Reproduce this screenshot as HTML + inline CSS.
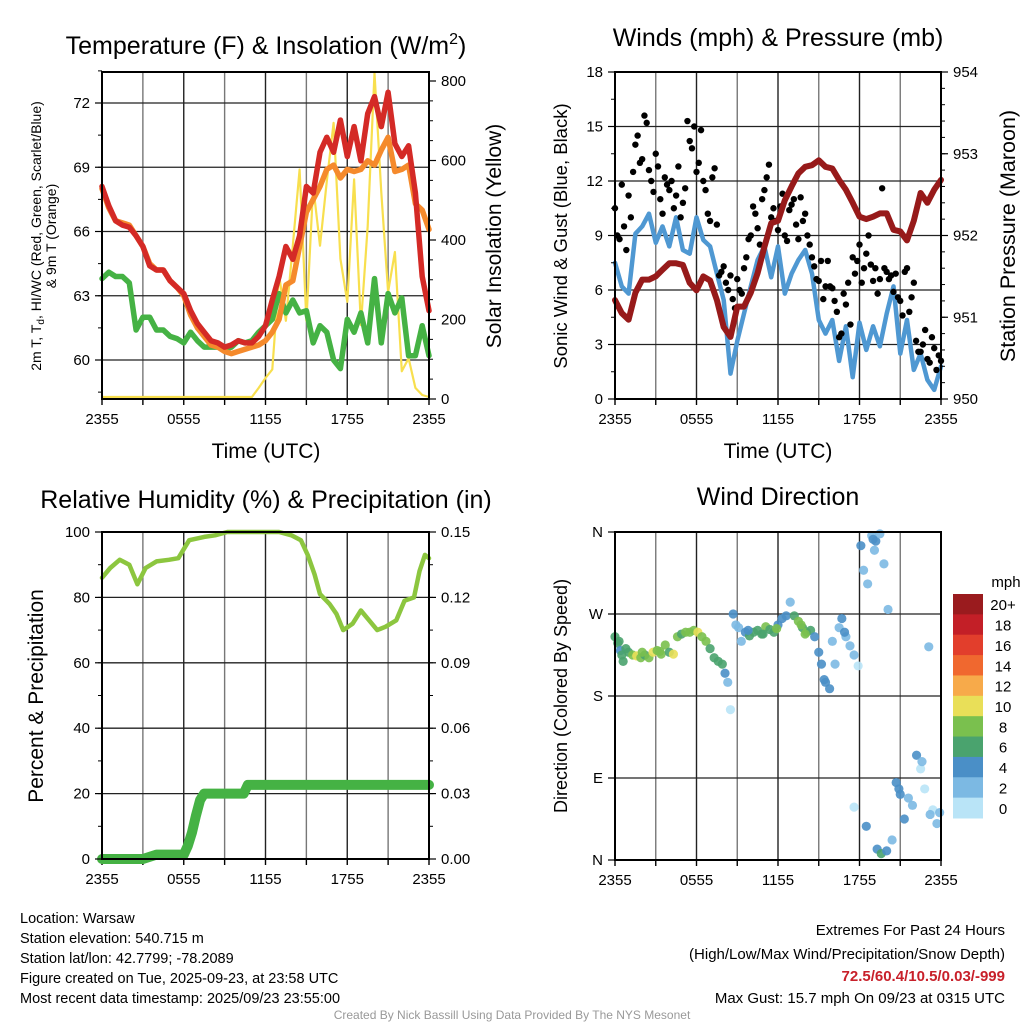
<!DOCTYPE html>
<html><head><meta charset="utf-8"><style>
body{margin:0;background:#fff;}
svg{display:block;font-family:"Liberation Sans",Arial,sans-serif;}
</style></head><body>
<svg id="s" width="1024" height="1024" viewBox="0 0 1024 1024" xmlns="http://www.w3.org/2000/svg">
<rect width="1024" height="1024" fill="#fff"/>
</svg>
<script>
// ---------- DATA ----------
const tHalf = [0,0.5,1,1.5,2,2.5,3,3.5,4,4.5,5,5.5,6,6.5,7,7.5,8,8.5,9,9.5,10,10.5,11,11.5,12,12.5,13,13.5,14,14.5,15,15.5,16,16.5,17,17.5,18,18.5,19,19.5,20,20.5,21,21.5,22,22.5,23,23.5,24];
const temp2m = [68.1,67.2,66.5,66.3,66.2,65.8,65.3,64.4,64.2,64.2,63.7,63.4,63.1,62.3,61.7,61.3,60.9,60.8,60.6,60.7,60.9,60.8,60.8,61.1,61.6,62.8,63.9,65.3,64.7,65.8,68.1,67.8,69.7,70.4,69.7,71.2,69.5,70.9,69.3,71.5,72.3,70.9,72.5,70.1,69.5,70.0,67.8,63.9,62.3];
const temp9m = [68.0,67.1,66.5,66.4,66.3,65.8,65.3,64.5,64.2,64.2,63.7,63.4,63.0,62.1,61.5,61.1,60.7,60.6,60.4,60.3,60.4,60.5,60.6,60.7,60.9,61.3,61.9,63.5,63.7,65.3,66.9,67.5,68.1,68.9,69.1,68.5,68.9,68.8,68.9,69.3,69.1,69.8,70.4,68.8,68.9,69.1,67.3,67.0,66.1];
const dewpt = [63.8,64.1,63.9,63.9,63.6,61.4,62.0,62.0,61.4,61.4,61.1,61.0,60.8,61.3,60.9,60.6,60.6,60.6,60.5,60.6,60.9,60.8,60.9,61.3,61.6,61.9,63.1,62.2,62.8,62.2,62.3,60.8,61.6,61.3,60.0,59.6,61.9,61.3,62.2,60.8,63.8,60.8,63.1,62.2,62.9,60.2,60.2,61.6,60.2];
const solar = [0,0,0,0,0,0,0,0,0,0,0,0,0,0,0,0,0,0,0,0,0,0,0,23,48,70,308,193,383,576,193,534,383,546,694,350,241,551,182,433,820,518,266,367,65,98,23,5,0];
const windSonic = [7.5,6.2,5.8,9.1,9.5,10.2,8.6,9.5,8.4,10.0,8.2,8.0,10.0,8.75,8.4,6.9,5.45,1.4,3.2,4.7,6.2,7.65,8.4,6.7,8.4,5.8,6.9,7.65,8.2,6.9,4.35,3.6,4.35,2.1,4.0,1.2,4.2,2.7,4.0,2.9,4.7,6.2,2.5,4.35,1.6,2.5,1.05,0.5,1.8];
const pressure = [951.21,951.05,950.97,951.3,951.46,951.46,951.5,951.58,951.66,951.66,951.64,951.42,951.33,951.5,951.45,951.21,950.88,950.76,951.13,951.13,951.3,951.54,951.86,952.15,952.18,952.43,952.6,952.76,952.84,952.86,952.92,952.84,952.82,952.68,952.56,952.4,952.23,952.2,952.23,952.27,952.27,952.07,952.05,951.94,952.18,952.52,952.4,952.56,952.68];
const gusts = [10.5,8.8,9.5,11.2,12.5,14.5,13.2,15.2,12.0,13.5,11.0,12.2,11.5,10.5,12.8,10.8,15.3,13.8,12.5,14.8,11.5,9.8,12.7,6.8,7.3,6.0,5.5,6.6,5.8,7.8,9.0,10.2,8.5,11.5,12.9,10.5,9.3,11.3,8.7,10.7,9.6,11.1,10.2,8.5,7.3,6.5,5.5,7.6,6.1,4.8,3.6,5.2,4.1,6.9,8.5,7.2,9.0,6.5,5.8,11.6,7.0,6.8,6.9,5.4,7.0,4.8,6.4,2.6,3.0,2.2,3.4,1.6,2.1];
const gusts2 = [9.0,11.8,8.2,10.0,14.0,13.0,15.6,12.6,11.4,12.8,10.2,11.8,12.0,11.2,10.0,11.6,14.2,15.0,13.0,12.0,10.2,12.2,9.6,7.0,6.4,6.8,5.0,6.0,7.2,8.8,10.6,9.4,11.0,12.2,10.0,9.8,10.6,9.0,10.4,11.0,8.8,9.8,9.0,7.8,6.6,7.6,6.2,6.2,5.4,3.4,5.8,6.4,7.8,7.6,6.4,8.0,7.4,7.2,6.6,7.2,6.6,5.9,5.6,4.6,7.2,5.6,3.2,2.6,3.8,2.0,2.8,2.4];
const rhT = [0,0.6,1.3,2.0,2.6,3.2,4.0,4.9,5.6,6.4,7.5,8.3,9.2,11.0,13.0,13.9,14.6,15.1,15.6,16.0,16.7,17.2,17.7,18.4,19.0,19.6,20.2,20.8,21.6,22.2,22.9,23.3,23.7,24];
const rhVals = [86,89,91.5,90,84,89,91,91.5,92,97.5,98.5,99,100,100,100,99,97.5,93,87,81,78,75,70,72,76,73,70,71,73,79,80,88,93,92];
const precT = [0,1,3,4,5,6,6.3,6.6,6.9,7.2,7.5,10.4,10.7,24];
const precVals = [0,0,0,0.002,0.002,0.002,0.006,0.012,0.02,0.027,0.03,0.03,0.034,0.034];
const dirT = [0.0,0.2,0.4,0.6,0.8,1.0,1.3,1.6,1.9,2.2,2.5,2.8,3.1,3.4,3.7,4.0,4.3,4.6,4.9,5.2,5.5,5.8,6.1,6.4,6.7,7.0,7.3,7.6,7.9,8.1,8.3,8.5,8.7,8.9,9.1,9.3,9.6,9.9,10.2,10.5,10.8,11.1,11.4,11.7,12.0,12.3,12.6,12.9,13.2,13.5,13.8,14.1,14.4,14.7,15.0,15.2,15.5,15.8,16.0,16.2,16.5,16.7,17.0,17.3,17.6,17.9,18.1,18.3,18.6,18.9,19.2,19.5,19.8,20.1,20.4,20.7,21.0,21.3,21.6,21.9,22.2,22.5,22.8,23.1,23.4,23.7,23.9,17.6,18.5,19.3,19.6,20.0,20.9,22.6,23.2,0.3,0.5,2.0,3.3,9.8,10.9,11.9,13.7,14.0,15.4,16.9,19.0,19.1];
const dirVals = [245,238,230,218,232,228,225,224,222,225,222,228,230,226,236,228,226,245,248,250,250,252,250,245,240,232,222,218,215,205,195,165,270,258,255,240,250,246,250,252,248,256,253,250,258,265,268,283,268,262,255,250,252,245,228,215,195,188,240,215,255,265,245,235,225,213,345,318,303,356,350,358,325,275,22,85,72,45,68,60,115,100,78,234,55,40,52,58,37,12,7,10,78,108,50,240,225,228,229,252,248,254,258,248,198,250,352,340];
const dirSpd = [6,6,5,6,7,6.5,9,10,9,7,8,10,8,8,9,7,10,8,7,8,8,9,10,8,8,7,7,6,6,5,3,1,4,3,3,2,5,7,6,7,6,8,7,6,5,4,4,2,7,8,7,8,7,4,4,5,4,5,3,2,3,5,2,3,2,1,5,3,3,2,4,3,3,3,3,5,4,4,2,2,5,1,1,2,0.5,3,2,1,5,4,6,5,4,2,3,6,6,8,9,5,7,8,9,8,4,5,5,3];
const speedColors = ["#b9e4f7","#7cb9e3","#4a8fc7","#4aa36e","#7ac04e","#e9df58","#f7aa4a","#f0682f","#e23e2c","#c31f27","#9a1b1e"];
const speedLabels = ["0","2","4","6","8","10","12","14","16","18","20+"];
const xTickLabels = ["2355","0555","1155","1755","2355"];

// ---------- HELPERS ----------
const NS="http://www.w3.org/2000/svg";
const svg=document.getElementById('s');
function mk(tag,attrs,parent){const e=document.createElementNS(NS,tag);for(const k in attrs)e.setAttribute(k,attrs[k]);(parent||svg).appendChild(e);return e;}
function txt(x,y,s,size,anchor,extra,parent){const e=mk('text',Object.assign({x:x,y:y,'font-size':size,'text-anchor':anchor||'middle',fill:'#000'},extra||{}),parent);e.textContent=s;return e;}
function panel(x0,x1,y0,y1){return {x0,x1,y0,y1,tx:t=>x0+t/24*(x1-x0)};}
function lin(v0,v1,p0,p1){return v=>p0+(v-v0)/(v1-v0)*(p1-p0);}
function path(ts,vs,fx,fy,color,w,name,g){let d='';for(let i=0;i<ts.length;i++){d+=(i?'L':'M')+fx(ts[i]).toFixed(1)+','+fy(vs[i]).toFixed(1);}
 const p=mk('path',{d:d,fill:'none',stroke:color,'stroke-width':w,'stroke-linejoin':'round','stroke-linecap':'round'},g);
 
 
 return p;}
function frame(P,g){
 for(let h=3;h<24;h+=3){mk('line',{x1:P.tx(h),x2:P.tx(h),y1:P.y0,y2:P.y1,stroke:(h%6?'#777':'#222'),'stroke-width':1.4},g);}
 for(let h=0;h<=24;h+=3){mk('line',{x1:P.tx(h),x2:P.tx(h),y1:P.y1,y2:P.y1+6,stroke:'#000','stroke-width':1.4},g);}
 xTickLabels.forEach((l,i)=>{const t=txt(P.tx(i*6),P.y1+25,l,15,'middle',{},g);});
}
function border(P,g){mk('rect',{x:P.x0,y:P.y0,width:P.x1-P.x0,height:P.y1-P.y0,fill:'none',stroke:'#000','stroke-width':2},g);}
function hgrid(P,fy,vals,g){vals.forEach(v=>mk('line',{x1:P.x0,x2:P.x1,y1:fy(v),y2:fy(v),stroke:'#222','stroke-width':1.3},g));}
function leftTicks(P,fy,majors,minors,labels,g){
 minors.forEach(v=>mk('line',{x1:P.x0-4,x2:P.x0,y1:fy(v),y2:fy(v),stroke:'#000','stroke-width':1},g));
 majors.forEach((v,i)=>{mk('line',{x1:P.x0-7,x2:P.x0,y1:fy(v),y2:fy(v),stroke:'#000','stroke-width':1.2},g);
  if(labels){const t=txt(P.x0-12,fy(v)+5,labels[i],15,'end',{},g);}});
}
function rightTicks(P,fy,majors,minors,labels,g){
 minors.forEach(v=>mk('line',{x1:P.x1,x2:P.x1+4,y1:fy(v),y2:fy(v),stroke:'#000','stroke-width':1},g));
 majors.forEach((v,i)=>{mk('line',{x1:P.x1,x2:P.x1+7,y1:fy(v),y2:fy(v),stroke:'#000','stroke-width':1.2},g);
  const t=txt(P.x1+12,fy(v)+5,labels[i],15,'start',{},g);});
}
function range(a,b,s){const r=[];for(let v=a;v<=b+1e-9;v+=s)r.push(+v.toFixed(4));return r;}
function grp(name){const g=mk('g',{});return g;}

// ---------- PANEL 1 ----------
(function(){
 const g=grp('temperature-panel');
 const P=panel(102,429,72,399);
 const fy=lin(60,72,360,103), fs=lin(0,800,397,81);
 frame(P,g);
 hgrid(P,fy,[60,63,66,69,72],g);
 path(tHalf,solar,P.tx,fs,'#f8df4e',2.2,'solar-insolation-line',g);
 path(tHalf,dewpt,P.tx,fy,'#45b244',5.5,'dewpoint-line',g);
 path(tHalf,temp9m,P.tx,fy,'#f58a2c',5.5,'temp-9m-line',g);
 path(tHalf,temp2m,P.tx,fy,'#d42a26',5.5,'temp-2m-line',g);
 border(P,g);
 leftTicks(P,fy,[60,63,66,69,72],range(58.5,73.5,1.5),['60','63','66','69','72'],g);
 rightTicks(P,lin(0,800,399,81),[0,200,400,600,800],range(0,800,50),['0','200','400','600','800'],g);
 const t1=mk('text',{x:266,y:54,'font-size':25,'text-anchor':'middle'},g);
 t1.innerHTML='Temperature (F) &amp; Insolation (W/m<tspan dy="-10" font-size="16">2</tspan><tspan dy="10">)</tspan>';
 
 const yl=mk('text',{transform:'translate(41,236) rotate(-90)','font-size':14,'text-anchor':'middle'},g);
 yl.innerHTML='2m T, T<tspan dy="3" font-size="10">d</tspan><tspan dy="-3">, HI/WC (Red, Green, Scarlet/Blue)</tspan>';
 
 const yl2=txt(0,0,'& 9m T (Orange)',14,'middle',{transform:'translate(56,236) rotate(-90)'},g);
 
 const yr=txt(0,0,'Solar Insolation (Yellow)',21,'middle',{transform:'translate(501,236) rotate(-90)'},g);
 
 const xt=txt(266,458,'Time (UTC)',21,'middle',{},g);
 
})();

// ---------- PANEL 2 ----------
(function(){
 const g=grp('winds-panel');
 const P=panel(615,941,72,399);
 const fy=lin(0,18,399,72), fp=lin(950,954,399,72);
 frame(P,g);
 hgrid(P,fy,[3,6,9,12,15],g);
 path(tHalf,windSonic,P.tx,fy,'#4f98d2',4.5,'sonic-wind-line',g);
 gusts.forEach((v,i)=>{const c=mk('circle',{cx:P.tx(i/3),cy:fy(v),r:3.2,fill:'#000'},g);
  });
 gusts2.forEach((v,i)=>{const c=mk('circle',{cx:P.tx(i/3+1/6),cy:fy(v),r:3.2,fill:'#000'},g);
  });
 path(tHalf,pressure,P.tx,fp,'#971a1a',6,'pressure-line',g);
 border(P,g);
 leftTicks(P,fy,[0,3,6,9,12,15,18],range(0,18,1.5),['0','3','6','9','12','15','18'],g);
 rightTicks(P,fp,[950,951,952,953,954],range(950,954,0.2),['950','951','952','953','954'],g);
 const t=txt(778,46,'Winds (mph) & Pressure (mb)',25,'middle',{},g);
 
 const yl=txt(0,0,'Sonic Wind & Gust (Blue, Black)',18.5,'middle',{transform:'translate(567,236) rotate(-90)'},g);
 
 const yr=txt(0,0,'Station Pressure (Maroon)',21.5,'middle',{transform:'translate(1015,236) rotate(-90)'},g);
 
 const xt=txt(778,458,'Time (UTC)',21,'middle',{},g);
 
})();

// ---------- PANEL 3 ----------
(function(){
 const g=grp('humidity-panel');
 const P=panel(102,429,532,859);
 const fy=lin(0,100,859,532), fpr=lin(0,0.15,859,532);
 frame(P,g);
 hgrid(P,fy,[20,40,60,80],g);
 path(rhT,rhVals,P.tx,fy,'#8cc63f',4.5,'relative-humidity-line',g);
 path(precT,precVals,P.tx,fpr,'#45b244',10,'precipitation-line',g);
 border(P,g);
 leftTicks(P,fy,[0,20,40,60,80,100],range(0,100,10),['0','20','40','60','80','100'],g);
 rightTicks(P,fpr,[0,0.03,0.06,0.09,0.12,0.15],range(0,0.15,0.015),['0.00','0.03','0.06','0.09','0.12','0.15'],g);
 const t=txt(266,508,'Relative Humidity (%) & Precipitation (in)',25,'middle',{},g);
 
 const yl=txt(0,0,'Percent & Precipitation',21,'middle',{transform:'translate(43,696) rotate(-90)'},g);
 
})();

// ---------- PANEL 4 ----------
(function(){
 const g=grp('wind-direction-panel');
 const P=panel(615,941,532,860);
 const fy=lin(0,360,860,532);
 frame(P,g);
 hgrid(P,fy,[90,180,270],g);
 dirT.forEach((t,i)=>{const b=Math.min(10,Math.floor(dirSpd[i]/2));
  const c=mk('circle',{cx:P.tx(t),cy:fy(dirVals[i]),r:4.6,fill:speedColors[b],'fill-opacity':0.9},g);
  
  });
 border(P,g);
 leftTicks(P,fy,[0,90,180,270,360],[],['N','E','S','W','N'],g);
 const t=txt(778,505,'Wind Direction',25,'middle',{},g);
 
 const yl=txt(0,0,'Direction (Colored By Speed)',18,'middle',{transform:'translate(567,696) rotate(-90)'},g);
 
 // colorbar
 const cb=grp('speed-colorbar');
 const h=(818-594)/speedColors.length;
 speedColors.forEach((c,i)=>{const k=speedColors.length-1-i;
  const r=mk('rect',{x:953,y:594+i*h,width:30,height:h+0.5,fill:speedColors[k]},cb);
  
  const l=txt(1003,594+i*h+h/2+6,speedLabels[k],15,'middle',{},cb);
  });
 const u=txt(1006,587,'mph',15,'middle',{},cb);
 
})();

// ---------- FOOTER TEXT ----------
(function(){
 const g=grp('station-info');
 ['Location: Warsaw','Station elevation: 540.715 m','Station lat/lon: 42.7799; -78.2089','Figure created on Tue, 2025-09-23, at 23:58 UTC','Most recent data timestamp: 2025/09/23 23:55:00'].forEach((s,i)=>{
  const t=txt(20,923+i*20,s,14.5,'start',{},g);});
 const g2=grp('extremes-summary');
 const a=txt(1005,935,'Extremes For Past 24 Hours',15,'end',{},g2);
 const b=txt(1005,959,'(High/Low/Max Wind/Precipitation/Snow Depth)',15,'end',{},g2);
 const c=txt(1005,981,'72.5/60.4/10.5/0.03/-999',15,'end',{fill:'#c8202a','font-weight':'bold'},g2);
 const d=txt(1005,1003,'Max Gust: 15.7 mph On 09/23 at 0315 UTC',15,'end',{},g2);
 const e=txt(512,1019,'Created By Nick Bassill Using Data Provided By The NYS Mesonet',12,'middle',{fill:'#999'});
})();
</script>
</body></html>
